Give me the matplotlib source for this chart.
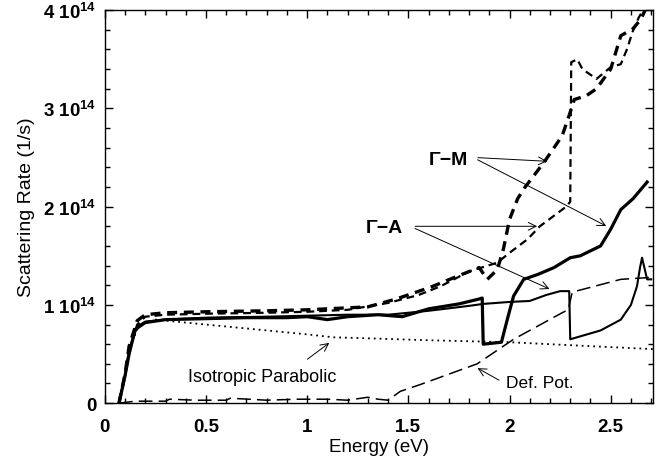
import matplotlib
matplotlib.use('Agg')
import matplotlib.pyplot as plt
from matplotlib.ticker import MultipleLocator

plt.rcParams['font.family'] = ['Liberation Sans', 'DejaVu Sans']
plt.rcParams['mathtext.default'] = 'regular'

# scattering rates in units of 1e14 1/s, energies in eV
SCALE = 1e14

# Gamma-M, thick dashed
gm_dash_e = [0.07, 0.10, 0.12, 0.16, 0.20, 0.30, 0.50, 0.80, 1.00, 1.20, 1.30, 1.44, 1.61,
             1.74, 1.85, 1.89, 1.94, 1.97, 2.00, 2.04, 2.07, 2.17, 2.26, 2.30, 2.32, 2.38,
             2.43, 2.50, 2.55, 2.61, 2.65, 2.67]
gm_dash_r = [0.00, 0.30, 0.58, 0.84, 0.90, 0.92, 0.93, 0.94, 0.95, 0.97, 0.98, 1.06, 1.18,
             1.29, 1.38, 1.26, 1.36, 1.57, 1.87, 2.08, 2.18, 2.45, 2.72, 2.96, 3.09, 3.13,
             3.20, 3.40, 3.74, 3.81, 3.91, 4.00]

# Gamma-A, thin dashed
ga_dash_e = [0.07, 0.10, 0.12, 0.16, 0.20, 0.30, 0.50, 0.80, 1.00, 1.20, 1.40, 1.55, 1.66,
             1.80, 1.94, 2.00, 2.09, 2.15, 2.28, 2.30, 2.305, 2.335, 2.36, 2.43, 2.50, 2.55,
             2.58, 2.61, 2.64, 2.66]
ga_dash_r = [0.00, 0.28, 0.52, 0.80, 0.88, 0.90, 0.91, 0.92, 0.93, 0.95, 1.02, 1.10, 1.19,
             1.34, 1.43, 1.53, 1.67, 1.80, 2.00, 2.05, 3.47, 3.50, 3.40, 3.30, 3.42, 3.45,
             3.60, 3.79, 3.93, 4.00]

# Gamma-M, thick solid
gm_solid_e = [0.07, 0.10, 0.12, 0.15, 0.20, 0.30, 0.50, 0.70, 0.90, 1.00, 1.10, 1.20, 1.35,
              1.47, 1.60, 1.75, 1.85, 1.865, 1.87, 1.96, 1.99, 2.02, 2.07, 2.14, 2.22, 2.30,
              2.35, 2.45, 2.50, 2.55, 2.61, 2.68]
gm_solid_r = [0.00, 0.28, 0.50, 0.75, 0.82, 0.85, 0.86, 0.87, 0.87, 0.88, 0.85, 0.88, 0.90,
              0.88, 0.96, 1.01, 1.06, 1.07, 0.60, 0.62, 0.86, 1.09, 1.26, 1.31, 1.38, 1.48,
              1.50, 1.60, 1.77, 1.97, 2.08, 2.25]

# Gamma-A, thin solid
ga_solid_e = [0.07, 0.10, 0.12, 0.16, 0.20, 0.30, 0.50, 0.80, 1.00, 1.20, 1.40, 1.60, 1.80,
              1.87, 2.00, 2.10, 2.18, 2.25, 2.295, 2.30, 2.35, 2.45, 2.55, 2.60, 2.63, 2.645,
              2.655, 2.68, 2.70]
ga_solid_r = [0.00, 0.28, 0.55, 0.78, 0.83, 0.85, 0.87, 0.88, 0.89, 0.90, 0.90, 0.94, 0.99,
              1.01, 1.03, 1.04, 1.10, 1.14, 1.14, 0.65, 0.68, 0.74, 0.85, 1.00, 1.19, 1.38,
              1.48, 1.26, 1.26]

# deformation potential
dp_e = [0.07, 0.15, 0.30, 0.32, 0.45, 0.60, 0.62, 0.80, 0.95, 1.10, 1.20, 1.30, 1.35,
        1.40, 1.46, 1.56, 1.84, 2.02, 2.26, 2.29, 2.31, 2.55, 2.70]
dp_r = [0.00, 0.02, 0.02, 0.04, 0.03, 0.03, 0.05, 0.03, 0.04, 0.04, 0.03, 0.06, 0.04,
        0.03, 0.12, 0.19, 0.40, 0.65, 0.92, 0.95, 1.13, 1.26, 1.28]

# isotropic parabolic
ip_e = [0.07, 0.10, 0.12, 0.17, 0.25, 0.40, 0.70, 1.00, 1.13, 1.30, 1.60, 2.00, 2.40, 2.71]
ip_r = [0.00, 0.30, 0.55, 0.80, 0.85, 0.82, 0.76, 0.70, 0.67, 0.66, 0.64, 0.62, 0.58, 0.55]


def sc(vals):
    return [v * SCALE for v in vals]


def main():
    fig = plt.figure(figsize=(6.72, 4.64), dpi=100)
    ax = fig.add_axes([0.156, 0.129, 0.816, 0.847])

    ax.plot(ip_e, sc(ip_r), color='black', lw=1.3, linestyle=(0, (1, 2.2)))
    ax.plot(dp_e, sc(dp_r), color='black', lw=1.1, dashes=(9, 4))
    ax.plot(ga_solid_e, sc(ga_solid_r), color='black', lw=1.5)
    ax.plot(gm_solid_e, sc(gm_solid_r), color='black', lw=2.3)
    ax.plot(ga_dash_e, sc(ga_dash_r), color='black', lw=1.6, dashes=(3.5, 2.2))
    ax.plot(gm_dash_e, sc(gm_dash_r), color='black', lw=2.4, dashes=(3, 2))

    ax.set_xlim(0, 2.71)
    ax.set_ylim(0, 4 * SCALE)
    ax.xaxis.set_major_locator(MultipleLocator(0.5))
    ax.xaxis.set_minor_locator(MultipleLocator(0.1))
    ax.yaxis.set_major_locator(MultipleLocator(SCALE))
    ax.yaxis.set_minor_locator(MultipleLocator(0.2 * SCALE))
    ax.set_xticks([0, 0.5, 1, 1.5, 2, 2.5])
    ax.set_xticklabels(['0', '0.5', '1', '1.5', '2', '2.5'])
    ax.set_yticks([0, SCALE, 2 * SCALE, 3 * SCALE, 4 * SCALE])
    ax.set_yticklabels(['0', '1 10$^{14}$', '2 10$^{14}$', '3 10$^{14}$', '4 10$^{14}$'])
    ax.tick_params(which='both', direction='in', top=True, right=True,
                   width=1.0, labelsize=13.5, pad=6)
    ax.tick_params(axis='x', which='both', pad=11)
    ax.tick_params(which='major', length=6)
    ax.tick_params(which='minor', length=3.5)
    for lab in ax.get_xticklabels() + ax.get_yticklabels():
        lab.set_fontweight('bold')
    for sp in ax.spines.values():
        sp.set_linewidth(1.0)

    ax.set_xlabel('Energy (eV)', fontsize=13.5, labelpad=2)
    ax.set_ylabel('Scattering Rate (1/s)', fontsize=14, labelpad=6)

    arrow = dict(arrowstyle='->', color='black', lw=0.7, mutation_scale=14)

    # Gamma-M labels
    ax.text(1.70, 2.48 * SCALE, '\u0393\u2212M', fontsize=14, fontweight='bold',
            ha='center', va='center')
    ax.annotate('', xy=(2.20, 2.46 * SCALE), xytext=(1.83, 2.50 * SCALE), arrowprops=arrow)
    ax.annotate('', xy=(2.49, 1.79 * SCALE), xytext=(1.83, 2.49 * SCALE), arrowprops=arrow)

    # Gamma-A labels
    ax.text(1.38, 1.79 * SCALE, '\u0393\u2212A', fontsize=14, fontweight='bold',
            ha='center', va='center')
    ax.annotate('', xy=(2.15, 1.80 * SCALE), xytext=(1.52, 1.80 * SCALE), arrowprops=arrow)
    ax.annotate('', xy=(2.21, 1.15 * SCALE), xytext=(1.52, 1.79 * SCALE), arrowprops=arrow)

    # isotropic parabolic
    ax.text(0.78, 0.27 * SCALE, 'Isotropic Parabolic', fontsize=13, ha='center', va='center')
    ax.annotate('', xy=(1.12, 0.63 * SCALE), xytext=(0.99, 0.43 * SCALE), arrowprops=arrow)

    # deformation potential
    ax.text(2.15, 0.21 * SCALE, 'Def. Pot.', fontsize=12.5, ha='center', va='center')
    ax.annotate('', xy=(1.83, 0.37 * SCALE), xytext=(1.96, 0.22 * SCALE), arrowprops=arrow)

    fig.savefig('out.png', dpi=100)


if __name__ == '__main__':
    main()
